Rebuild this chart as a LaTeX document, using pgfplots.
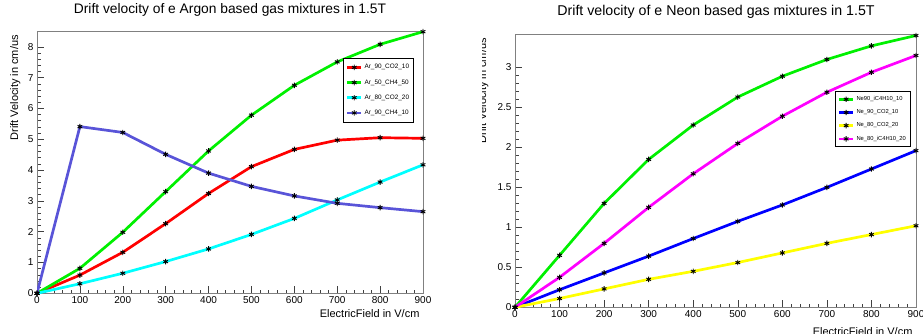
\documentclass[border=0pt]{standalone}
\usepackage{fontspec}
\setmainfont{Liberation Sans}
\usepackage{pgfplots}
\pgfplotsset{compat=1.18}
\definecolor{rootred}{RGB}{255,0,0}
\definecolor{rootgreen}{RGB}{0,240,0}
\definecolor{rootcyan}{RGB}{0,255,255}
\definecolor{rootviolet}{RGB}{89,84,216}
\definecolor{rootblue}{RGB}{0,0,255}
\definecolor{rootyellow}{RGB}{255,255,0}
\definecolor{rootmagenta}{RGB}{255,0,255}
\pgfplotsset{
  rootaxis/.style={
    scale only axis,
    anchor=south west,
    xmin=0, xmax=900, ymin=0,
    xtick={0,100,...,900},
    minor x tick num=4,
    minor y tick num=4,
    axis line style={black!50, line width=0.7pt},
    tick style={black!75, line width=0.5pt},
    major tick length=7pt, minor tick length=3.5pt,
    tick pos=left,
    tick label style={font=\fontsize{10}{12}\selectfont},
    /pgf/number format/assume math mode=true,
    every axis plot/.append style={line width=2.7pt, mark=asterisk, mark size=2.7pt,
      mark options={black, line width=0.9pt, solid}},
    legend cell align=left,
    legend image code/.code={\draw[mark repeat=2,mark phase=2,#1] plot coordinates {(0pt,0pt)(7pt,0pt)(14pt,0pt)};},
    label style={font=\fontsize{11}{13}\selectfont},
    xlabel={ElectricField in V/cm},
    ylabel={Drift Velocity in cm/us},
  }
}
\begin{document}
\begin{tikzpicture}[x=1pt,y=1pt]
\useasboundingbox (0,0) rectangle (923,334);
\begin{scope}
\clip (0,0) rectangle (430,334);
\begin{axis}[rootaxis,
  at={(37pt,40.7pt)}, width=386pt, height=261.6pt,
  ymax=8.49, ytick={0,1,...,8},
  xlabel style={at={(axis description cs:1,-0.092)}, anchor=base east},
  ylabel style={at={(axis description cs:-0.049,1)}, anchor=base east},
  legend style={at={(0.793,0.899)}, anchor=north west, draw=black, line width=0.6pt,
    font=\fontsize{6.4}{7}\selectfont, row sep=5.2pt, inner ysep=4pt, inner xsep=2.5pt},
]
\addplot[rootred] coordinates {(0,0)(100,0.59)(200,1.33)(300,2.26)(400,3.24)(500,4.11)(600,4.67)(700,4.97)(800,5.05)(900,5.03)};
\addlegendentry{Ar\_90\_CO2\_10}
\addplot[rootgreen] coordinates {(0,0)(100,0.81)(200,1.98)(300,3.30)(400,4.62)(500,5.78)(600,6.75)(700,7.51)(800,8.08)(900,8.49)};
\addlegendentry{Ar\_50\_CH4\_50}
\addplot[rootcyan] coordinates {(0,0)(100,0.31)(200,0.65)(300,1.03)(400,1.44)(500,1.91)(600,2.43)(700,3.03)(800,3.61)(900,4.17)};
\addlegendentry{Ar\_80\_CO2\_20}
\addplot[rootviolet] coordinates {(0,0)(100,5.41)(200,5.22)(300,4.51)(400,3.90)(500,3.47)(600,3.16)(700,2.92)(800,2.78)(900,2.65)};
\addlegendentry{Ar\_90\_CH4\_10}
\end{axis}
\node[font=\fontsize{13.8}{16}\selectfont] at (230,324) {Drift velocity of e Argon based gas mixtures in 1.5T};
\end{scope}
\begin{scope}
\clip (482,0) rectangle (923,334);
\begin{axis}[rootaxis,
  at={(515pt,26.7pt)}, width=401pt, height=272.6pt,
  ymax=3.41, ytick={0,0.5,...,3},
  xlabel style={at={(axis description cs:1,-0.105)}, anchor=base east},
  ylabel style={at={(axis description cs:-0.072,1)}, anchor=base east},
  legend style={at={(0.798,0.793)}, anchor=north west, draw=black, line width=0.6pt,
    font=\fontsize{5.8}{6.4}\selectfont, row sep=3.6pt, inner ysep=3pt, inner xsep=2.5pt},
]
\addplot[rootgreen] coordinates {(0,0)(100,0.65)(200,1.30)(300,1.85)(400,2.28)(500,2.63)(600,2.89)(700,3.10)(800,3.27)(900,3.40)};
\addlegendentry{Ne90\_iC4H10\_10}
\addplot[rootblue] coordinates {(0,0)(100,0.22)(200,0.43)(300,0.64)(400,0.86)(500,1.075)(600,1.28)(700,1.50)(800,1.73)(900,1.96)};
\addlegendentry{Ne\_90\_CO2\_10}
\addplot[rootyellow] coordinates {(0,0)(100,0.11)(200,0.23)(300,0.35)(400,0.45)(500,0.56)(600,0.68)(700,0.80)(800,0.91)(900,1.02)};
\addlegendentry{Ne\_80\_CO2\_20}
\addplot[rootmagenta] coordinates {(0,0)(100,0.375)(200,0.80)(300,1.25)(400,1.67)(500,2.05)(600,2.39)(700,2.69)(800,2.94)(900,3.15)};
\addlegendentry{Ne\_80\_iC4H10\_20}
\end{axis}
\node[font=\fontsize{14.2}{16}\selectfont] at (716,322) {Drift velocity of e Neon based gas mixtures in 1.5T};
\end{scope}
\end{tikzpicture}
\end{document}
